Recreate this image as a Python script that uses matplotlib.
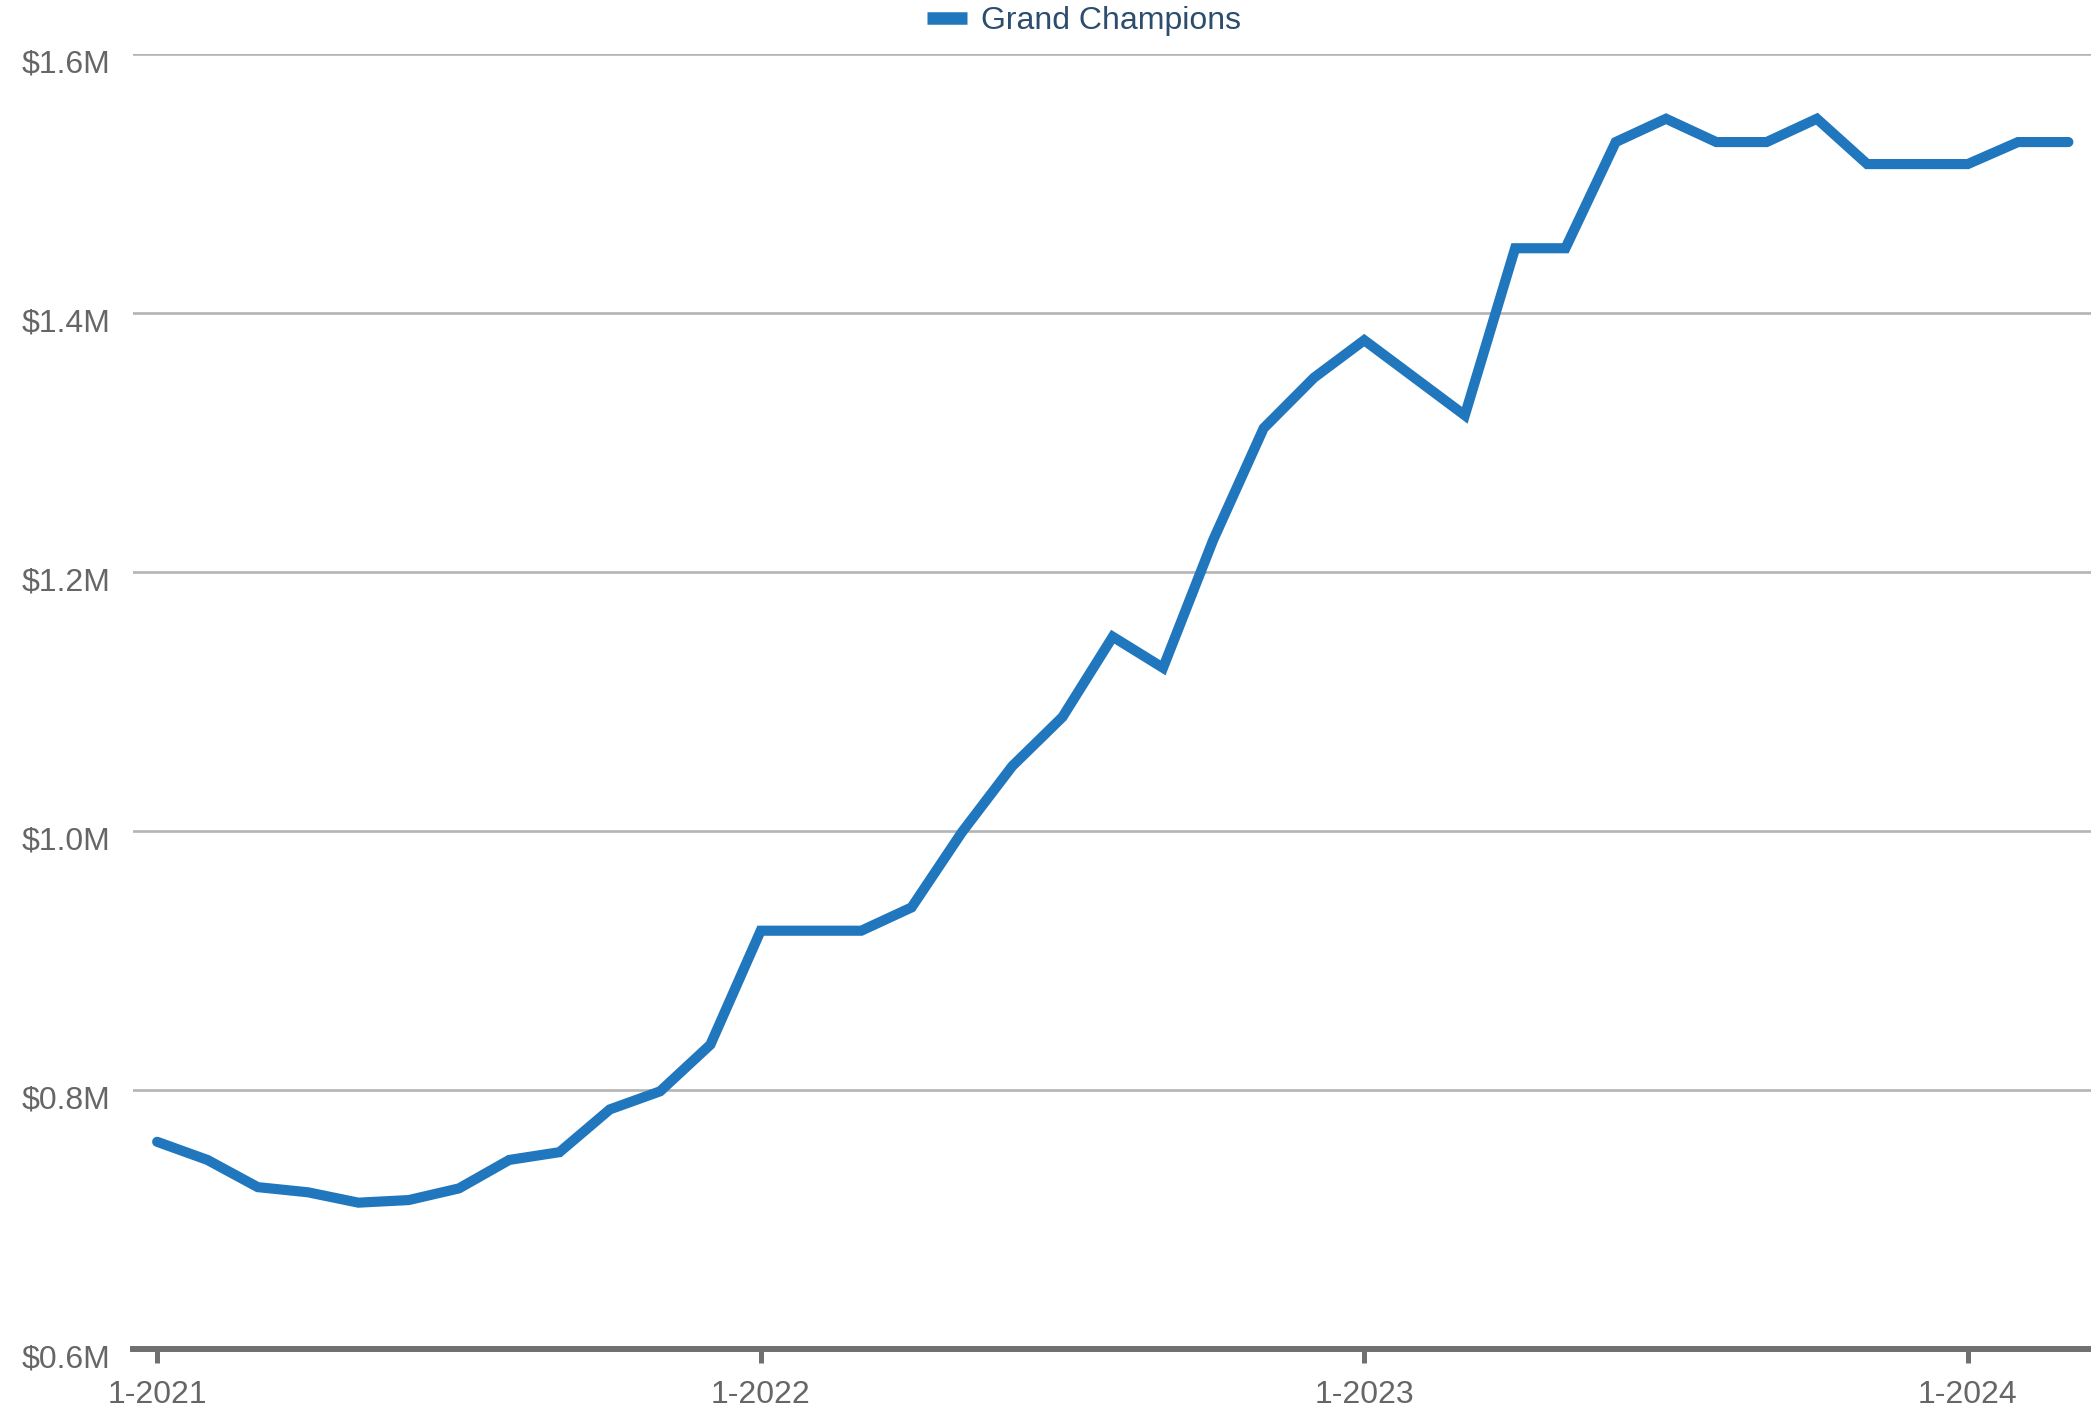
import matplotlib
matplotlib.use("Agg")
import matplotlib.pyplot as plt
import matplotlib.transforms as mtransforms
from matplotlib.ticker import FuncFormatter

plt.rcParams['font.family'] = ['Liberation Sans', 'DejaVu Sans']

# Monthly data, 1-2021 .. 3-2024
months = [f"{m}-{y}" for y in (2021, 2022, 2023, 2024) for m in range(1, 13)][:39]
values = [0.760, 0.746, 0.725, 0.721, 0.713, 0.715, 0.724, 0.746, 0.752, 0.785,
          0.799, 0.835, 0.923, 0.923, 0.923, 0.941, 0.999, 1.050, 1.088, 1.150,
          1.126, 1.225, 1.311, 1.350, 1.379, 1.350, 1.321, 1.450, 1.450, 1.532,
          1.550, 1.532, 1.532, 1.550, 1.515, 1.515, 1.515, 1.532, 1.532]
series_name = "Grand Champions"
y_ticks = [0.6, 0.8, 1.0, 1.2, 1.4, 1.6]
x_tick_labels = ["1-2021", "1-2022", "1-2023", "1-2024"]

blue = "#2077bd"
W, H = 2091, 1410
fig = plt.figure(figsize=(W / 100, H / 100), dpi=100)
ax = fig.add_axes([133 / W, 1 - 1349 / H, 1 - 133 / W, (1349 - 54) / H])

x = list(range(len(values)))
ax.plot(x, values, color=blue, lw=7.3, solid_capstyle='round',
        solid_joinstyle='miter', label=series_name, zorder=3)

ax.set_ylim(0.6, 1.6)
ax.set_xlim(-0.48, 38.45)
ax.set_yticks(y_ticks)
ax.yaxis.set_major_formatter(FuncFormatter(lambda v, p: f"${v:.1f}M"))
tick_pos = [months.index(lbl) for lbl in x_tick_labels]
ax.set_xticks(tick_pos)
ax.set_xticklabels(x_tick_labels)

for y in y_ticks[1:]:
    ax.axhline(y, color="#b4b4b4", lw=1.9, zorder=1)

for s in ("top", "right", "left"):
    ax.spines[s].set_visible(False)
ax.spines["bottom"].set_color("#707070")
ax.spines["bottom"].set_linewidth(4.3)
ax.spines["bottom"].set_zorder(4)

ax.tick_params(axis='y', length=0, pad=16.5, labelsize=23, labelcolor="#666666")
ax.tick_params(axis='x', length=10, width=3.6, color="#707070", direction='out',
               pad=12, labelsize=23, labelcolor="#666666")

offset = mtransforms.ScaledTranslation(0, -7 / 100, fig.dpi_scale_trans)
for lbl in ax.get_yticklabels():
    lbl.set_transform(lbl.get_transform() + offset)

leg = fig.legend(loc='center', bbox_to_anchor=(1084 / W, 1 - 21 / H), frameon=False,
                 fontsize=23, handlelength=1.25, handletextpad=0.45, labelcolor="#2c4d6e")
for h in leg.get_lines():
    h.set_linewidth(9)
    h.set_solid_capstyle('butt')

fig.savefig("out.png", dpi=100)
